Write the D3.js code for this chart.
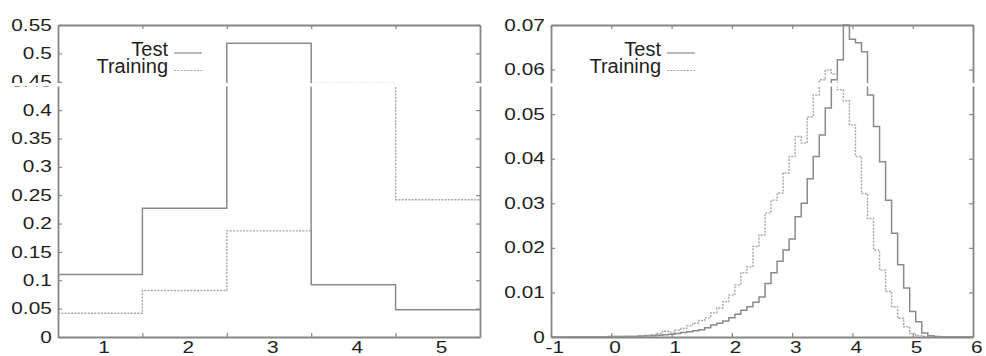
<!DOCTYPE html>
<html>
<head>
<meta charset="utf-8">
<script src="https://cdn.jsdelivr.net/npm/d3@7/dist/d3.min.js"></script>
<style>
    html, body { margin: 0; padding: 0; background: #fff; }
    svg { display: block; font-family: 'Liberation Sans', Arial, sans-serif; }
</style>
</head>
<body>
<svg width="986" height="356"></svg>
<script>
// left panel: five classes
const classCategories = [1, 2, 3, 4, 5]
const classTest = [0.110, 0.227, 0.518, 0.092, 0.048]
const classTraining = [0.042, 0.082, 0.187, 0.447, 0.242]
const classYTicks = [0, 0.05, 0.1, 0.15, 0.2, 0.25, 0.3, 0.35, 0.4, 0.45, 0.5, 0.55]
const classXTicks = [1.5, 2.5, 3.5, 4.5]

// right panel: histogram, bins of 0.1
const scoreBins = [
    0.0, 0.1, 0.2, 0.3, 0.4, 0.5, 0.6, 0.7, 0.8, 0.9,
    1.0, 1.1, 1.2, 1.3, 1.4, 1.5, 1.6, 1.7, 1.8, 1.9,
    2.0, 2.1, 2.2, 2.3, 2.4, 2.5, 2.6, 2.7, 2.8, 2.9,
    3.0, 3.1, 3.2, 3.3, 3.4, 3.5, 3.6, 3.7, 3.8, 3.9,
    4.0, 4.1, 4.2, 4.3, 4.4, 4.5, 4.6, 4.7, 4.8, 4.9,
    5.0, 5.1, 5.2, 5.3, 5.4, 5.5,
]
const scoreTest = [
    0.0001, 0.0001, 0.0001, 0.0001, 0.0001, 0.0002, 0.0003, 0.0003, 0.0004, 0.0005,
    0.0006, 0.0008, 0.0010, 0.0012, 0.0014, 0.0016, 0.0021, 0.0027, 0.0031, 0.0036,
    0.0043, 0.0051, 0.0060, 0.0068, 0.0078, 0.0090, 0.0120, 0.0144, 0.0170, 0.0195,
    0.0220, 0.0270, 0.0300, 0.0355, 0.0405, 0.0453, 0.0514, 0.0577, 0.0622, 0.0720,
    0.0668, 0.0660, 0.0640, 0.0543, 0.0472, 0.0393, 0.0307, 0.0233, 0.0162, 0.0110,
    0.0057, 0.0034, 0.0009, 0.0003, 0.0001, 0.0000,
]
const scoreTraining = [
    0.0001, 0.0001, 0.0001, 0.0002, 0.0002, 0.0003, 0.0004, 0.0005, 0.0008, 0.0013,
    0.0011, 0.0015, 0.0019, 0.0025, 0.0031, 0.0037, 0.0043, 0.0054, 0.0065, 0.0079,
    0.0094, 0.0117, 0.0144, 0.0158, 0.0203, 0.0229, 0.0278, 0.0307, 0.0323, 0.0368,
    0.0405, 0.0450, 0.0435, 0.0494, 0.0543, 0.0577, 0.0599, 0.0590, 0.0555, 0.0530,
    0.0476, 0.0405, 0.0322, 0.0266, 0.0195, 0.0150, 0.0102, 0.0068, 0.0042, 0.0023,
    0.0008, 0.0003, 0.0001, 0.0000, 0.0000, 0.0000,
]
const scoreYTicks = [0, 0.01, 0.02, 0.03, 0.04, 0.05, 0.06, 0.07]
const scoreXTicks = [-1, 0, 1, 2, 3, 4, 5, 6]

const legendLabels = ['Test', 'Training']

const frameColor = '#868686'
const textColor = '#1e1e1e'
const seriesStyle = {
    Test: { stroke: '#8a8a8a', width: 1.5, dash: null },
    Training: { stroke: '#a6a6a6', width: 1.4, dash: '2,1.3' },
}

const svg = d3.select('svg')
const plotTop = 25
const plotBottom = 337
const stretch = 1.3 // tick labels in the scan are wider than the font

const fmt = (d) => String(+d.toFixed(2))

function drawPanel(p) {
    const xScale = d3.scaleLinear().domain(p.xDomain).range([p.left, p.right])
    const yScale = d3.scaleLinear().domain(p.yDomain).range([plotBottom, plotTop]).clamp(true)
    const g = svg.append('g').attr('class', 'panel')

    // axes: inward ticks on all four sides
    const yLeft = d3.axisLeft(yScale).tickValues(p.yTicks).tickFormat(fmt)
        .tickSizeInner(-4).tickSizeOuter(0).tickPadding(4.8)
    const yRight = d3.axisRight(yScale).tickValues(p.yTicks).tickFormat('')
        .tickSizeInner(-4).tickSizeOuter(0)
    const xTop = d3.axisTop(xScale).tickValues(p.xTicks).tickFormat('')
        .tickSizeInner(-4).tickSizeOuter(0)
    const xBottom = d3.axisBottom(xScale).tickValues(p.xTicks).tickFormat('')
        .tickSizeInner(-4).tickSizeOuter(0)
    const xLabels = d3.axisBottom(xScale).tickValues(p.xLabels).tickFormat(fmt)
        .tickSize(0).tickPadding(4.6)

    const data = g.append('g').attr('class', 'data-container')

    g.append('g').attr('transform', `translate(${p.left},0)`).call(yLeft)
    g.append('g').attr('transform', `translate(${p.right},0)`).call(yRight)
    g.append('g').attr('transform', `translate(0,${plotTop})`).call(xTop)
    g.append('g').attr('transform', `translate(0,${plotBottom})`).call(xBottom)
    const lab = g.append('g').attr('transform', `translate(0,${plotBottom})`).call(xLabels)
    lab.select('.domain').remove()
    lab.selectAll('text').attr('dx', 2.5)

    g.selectAll('.domain').attr('stroke', frameColor).attr('stroke-width', 1.8)
    g.selectAll('.tick line').attr('stroke', frameColor).attr('stroke-width', 1.2)
    g.selectAll('.tick text')
        .attr('fill', textColor)
        .style('font-size', '16px')
        .attr('transform', `scale(${stretch},1)`)

    const line = d3.line()
        .x((d) => xScale(d[0]))
        .y((d) => yScale(d[1]))
        .curve(d3.curveStepAfter)

    data.selectAll('path.data')
        .data(p.series)
        .enter()
        .append('path')
        .attr('class', 'data')
        .attr('fill', 'none')
        .attr('stroke', (d) => seriesStyle[d.name].stroke)
        .attr('stroke-width', (d) => seriesStyle[d.name].width)
        .attr('stroke-dasharray', (d) => seriesStyle[d.name].dash)
        .attr('d', (d) => line(d.points))

    // legend, text right aligned with a line sample after it
    const legend = g.append('g').attr('class', 'legend-container')
        .attr('transform', `translate(${p.left + 110},0)`)
    const item = legend.selectAll('g.legend-item')
        .data(legendLabels)
        .enter()
        .append('g')
        .attr('class', 'legend-item')
        .attr('transform', (d, i) => `translate(0,${55.5 + i * 17.5})`)
    item.append('text')
        .attr('text-anchor', 'end')
        .attr('fill', textColor)
        .style('font-size', '20px')
        .text((d) => d)
    item.append('line')
        .attr('x1', 6).attr('x2', 34)
        .attr('y1', -2.5).attr('y2', -2.5)
        .attr('stroke', (d) => seriesStyle[d].stroke)
        .attr('stroke-width', 1.2)
        .attr('stroke-dasharray', (d) => seriesStyle[d].dash)
}

// left panel step lines through the class edges
const classPoints = (vals) => {
    const pts = classCategories.map((c, i) => [c - 0.5, vals[i]])
    pts.push([classCategories[classCategories.length - 1] + 0.5, vals[vals.length - 1]])
    return pts
}

// right panel histogram outline, zero outside the bins
const scorePoints = (vals) => {
    const pts = [[-1, 0]]
    scoreBins.forEach((c, i) => pts.push([c - 0.05, vals[i]]))
    pts.push([scoreBins[scoreBins.length - 1] + 0.05, 0])
    pts.push([6, 0])
    return pts
}

drawPanel({
    left: 58, right: 480,
    xDomain: [0.5, 5.5], yDomain: [0, 0.55],
    xTicks: classXTicks, xLabels: classCategories, yTicks: classYTicks,
    series: [
        { name: 'Test', points: classPoints(classTest) },
        { name: 'Training', points: classPoints(classTraining) },
    ],
})

drawPanel({
    left: 551, right: 973,
    xDomain: [-1, 6], yDomain: [0, 0.07],
    xTicks: scoreXTicks, xLabels: scoreXTicks, yTicks: scoreYTicks,
    series: [
        { name: 'Test', points: scorePoints(scoreTest) },
        { name: 'Training', points: scorePoints(scoreTraining) },
    ],
})

// thin blank scan line that crosses the original figure
svg.append('rect')
    .attr('x', 0).attr('y', 83).attr('width', 986).attr('height', 3.5)
    .attr('fill', '#fff')
</script>
</body>
</html>
